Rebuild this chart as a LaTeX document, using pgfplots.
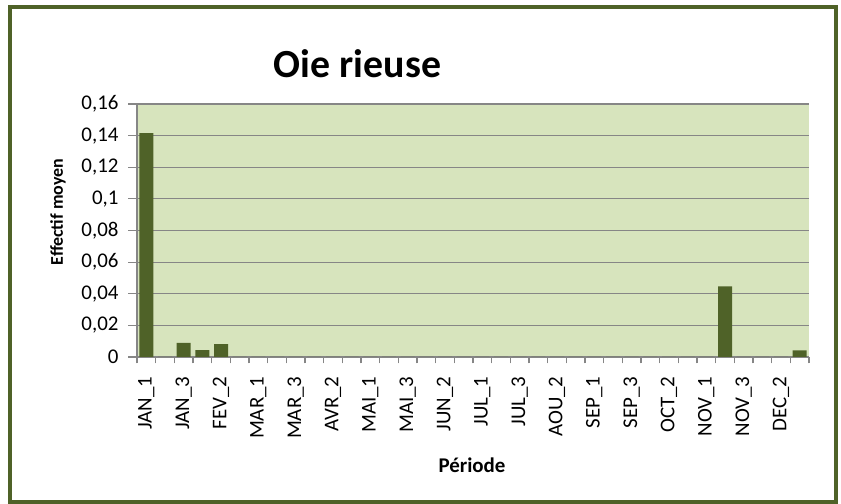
\documentclass[border=0pt]{standalone}
\usepackage{fontspec}
\setmainfont{Carlito}
\usepackage{pgfplots}
\pgfplotsset{compat=1.18}
\definecolor{olivebar}{HTML}{4F6228}
\definecolor{plotbg}{HTML}{D7E4BD}
\definecolor{gridgray}{HTML}{868686}

% effectif moyen par periode (JAN_1 ... DEC_3), x = index + 0.5
\pgfplotstableread{
x    y
0.5  0.1415
1.5  0
2.5  0.0090
3.5  0.0044
4.5  0.0082
5.5  0
6.5  0
7.5  0
8.5  0
9.5  0
10.5 0
11.5 0
12.5 0
13.5 0
14.5 0
15.5 0
16.5 0
17.5 0
18.5 0
19.5 0
20.5 0
21.5 0
22.5 0
23.5 0
24.5 0
25.5 0
26.5 0
27.5 0
28.5 0
29.5 0
30.5 0
31.5 0.0447
32.5 0
33.5 0
34.5 0
35.5 0.0042
}\oie

\begin{document}
\begin{tikzpicture}[x=1bp,y=1bp]
\path[use as bounding box, fill=white] (0,0) rectangle (841,504);
\draw[olivebar, line width=4bp] (10,496.5) rectangle (836,1.8);

\begin{axis}[
    at={(137bp,147bp)}, anchor=south west,
    scale only axis, width=672bp, height=253bp,
    xmin=0, xmax=36, ymin=0, ymax=0.16,
    axis lines*=left,
    axis line style={-, draw=gridgray, line width=1.2bp},
    axis background/.style={fill=plotbg},
    ymajorgrids, grid style={draw=gridgray, line width=1.2bp},
    tick align=outside,
    major tick length=9bp, minor tick length=6.5bp,
    tick style={draw=gridgray, line width=1.2bp},
    major x tick style={draw=none},
    xtick={0.5,2.5,...,34.5},
    minor xtick={0,1,...,36},
    xticklabels={JAN\_1,JAN\_3,FEV\_2,MAR\_1,MAR\_3,AVR\_2,MAI\_1,MAI\_3,JUN\_2,JUL\_1,JUL\_3,AOU\_2,SEP\_1,SEP\_3,OCT\_2,NOV\_1,NOV\_3,DEC\_2},
    ytick={0,0.02,0.04,0.06,0.08,0.1,0.12,0.14,0.16},
    yticklabels={0,{0,02},{0,04},{0,06},{0,08},{0,1},{0,12},{0,14},{0,16}},
    xticklabel style={font=\fontsize{21}{21}\selectfont, rotate=90, anchor=east, xshift=-7bp},
    yticklabel style={font=\fontsize{21}{21}\selectfont, xshift=-6bp},
    clip=false,
]
\addplot[ybar, bar width=14bp, fill=olivebar, draw=none] table[x=x, y=y] {\oie};
\end{axis}

\node[anchor=base, font=\fontsize{40}{40}\selectfont\bfseries] at (357.5,426) {Oie rieuse};
\node[rotate=90, font=\fontsize{18}{18}\selectfont\bfseries] at (58,292) {Effectif moyen};
\node[font=\fontsize{21}{21}\selectfont\bfseries] at (472,39) {Période};
\end{tikzpicture}
\end{document}
